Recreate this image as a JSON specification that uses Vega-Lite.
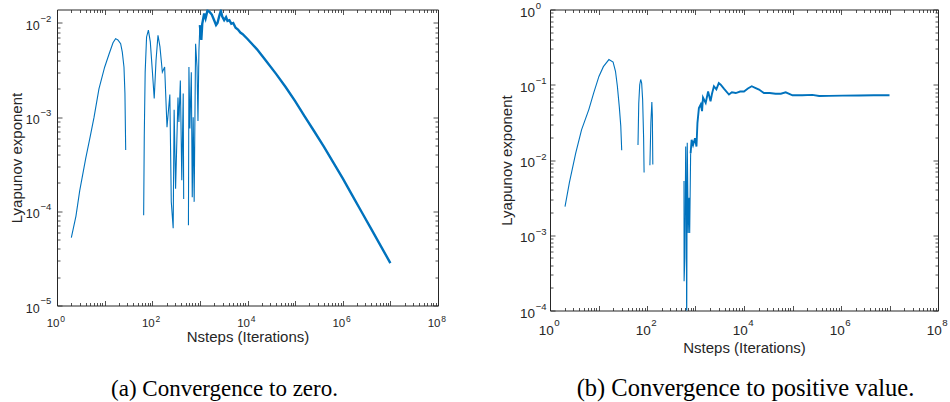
{
  "$schema": "https://vega.github.io/schema/vega-lite/v6.json",
  "padding": {"left": 9, "top": 0.5, "right": 0, "bottom": 0},
  "background": "white",
  "bounds": "flush",
  "spacing": 112,
  "config": {
    "view": {"stroke": null},
    "axis": {
      "domainColor": "#262626", "tickColor": "#262626", "titleColor": "#262626",
      "titleFont": "Liberation Sans", "titleFontSize": 15, "titleFontWeight": "normal",
      "labels": false, "grid": false, "tickSize": -3, "tickWidth": 0.8, "domainWidth": 1
    },
    "text": {"font": "Liberation Sans", "color": "#262626"},
    "title": {"font": "Liberation Serif", "fontWeight": "normal", "color": "#000000", "orient": "bottom", "anchor": "middle"}
  },
  "resolve": {"scale": {"x": "independent", "y": "independent", "strokeWidth": "independent"}},
  "datasets": {
    "xlab": [
      {"v": 1, "e": "0"}, {"v": 100, "e": "2"}, {"v": 10000, "e": "4"}, {"v": 1000000, "e": "6"}, {"v": 100000000, "e": "8"}
    ],
    "ylabA": [
      {"v": 0.00001, "e": "−5"}, {"v": 0.0001, "e": "−4"}, {"v": 0.001, "e": "−3"}, {"v": 0.01, "e": "−2"}
    ],
    "ylabB": [
      {"v": 0.0001, "e": "−4"}, {"v": 0.001, "e": "−3"}, {"v": 0.01, "e": "−2"}, {"v": 0.1, "e": "−1"}, {"v": 1, "e": "0"}
    ],
    "a": [
      {"N": 2, "L": 0.0000525, "phase": "t"},
      {"N": 2.5, "L": 0.000089, "phase": "t"},
      {"N": 3, "L": 0.000166, "phase": "t"},
      {"N": 4, "L": 0.000363, "phase": "t"},
      {"N": 5, "L": 0.00063, "phase": "t"},
      {"N": 6, "L": 0.001, "phase": "t"},
      {"N": 7.6, "L": 0.002, "phase": "t"},
      {"N": 10, "L": 0.00339, "phase": "t"},
      {"N": 12.4, "L": 0.00468, "phase": "t"},
      {"N": 15, "L": 0.00617, "phase": "t"},
      {"N": 17, "L": 0.00682, "phase": "t"},
      {"N": 19, "L": 0.00661, "phase": "t"},
      {"N": 21.7, "L": 0.00603, "phase": "t"},
      {"N": 23.5, "L": 0.0049, "phase": "t"},
      {"N": 25.5, "L": 0.00339, "phase": "t"},
      {"N": 26.7, "L": 0.00178, "phase": "t"},
      {"N": 27.7, "L": 0.000447, "phase": "t"},
      {"N": 29, "L": null, "phase": "t"},
      {"N": 66, "L": 0.000091, "phase": "t"},
      {"N": 68, "L": 0.00063, "phase": "t"},
      {"N": 71, "L": 0.003, "phase": "t"},
      {"N": 76, "L": 0.0071, "phase": "t"},
      {"N": 83, "L": 0.0084, "phase": "t"},
      {"N": 91, "L": 0.0063, "phase": "t"},
      {"N": 100, "L": 0.0032, "phase": "t"},
      {"N": 110, "L": 0.00158, "phase": "t"},
      {"N": 120, "L": 0.004, "phase": "t"},
      {"N": 132, "L": 0.0074, "phase": "t"},
      {"N": 145, "L": 0.0056, "phase": "t"},
      {"N": 163, "L": 0.003, "phase": "t"},
      {"N": 182, "L": 0.0034, "phase": "t"},
      {"N": 204, "L": 0.00078, "phase": "t"},
      {"N": 234, "L": 0.00174, "phase": "t"},
      {"N": 251, "L": 0.000126, "phase": "t"},
      {"N": 275, "L": 0.000066, "phase": "t"},
      {"N": 288, "L": 0.0012, "phase": "t"},
      {"N": 309, "L": 0.000174, "phase": "t"},
      {"N": 347, "L": 0.00162, "phase": "t"},
      {"N": 363, "L": 0.00089, "phase": "t"},
      {"N": 389, "L": 0.00245, "phase": "t"},
      {"N": 417, "L": 0.000214, "phase": "t"},
      {"N": 447, "L": 0.00178, "phase": "t"},
      {"N": 457, "L": 0.000135, "phase": "t"},
      {"N": 500, "L": null, "phase": "t"},
      {"N": 575, "L": 0.000071, "phase": "t"},
      {"N": 589, "L": 0.0034, "phase": "t"},
      {"N": 617, "L": 0.00076, "phase": "t"},
      {"N": 661, "L": 0.003, "phase": "t"},
      {"N": 692, "L": 0.000141, "phase": "t"},
      {"N": 724, "L": 0.001, "phase": "t"},
      {"N": 759, "L": 0.000126, "phase": "t"},
      {"N": 813, "L": 0.006, "phase": "t"},
      {"N": 871, "L": 0.0034, "phase": "t"},
      {"N": 912, "L": 0.00091, "phase": "t"},
      {"N": 955, "L": 0.0051, "phase": "t"},
      {"N": 1000, "L": 0.0095, "phase": "t"},
      {"N": 1000, "L": 0.0095, "phase": "n"},
      {"N": 1072, "L": 0.0066, "phase": "n"},
      {"N": 1122, "L": 0.0098, "phase": "n"},
      {"N": 1230, "L": 0.0126, "phase": "n"},
      {"N": 1318, "L": 0.0112, "phase": "n"},
      {"N": 1445, "L": 0.0136, "phase": "n"},
      {"N": 1585, "L": 0.0132, "phase": "n"},
      {"N": 1778, "L": 0.0123, "phase": "n"},
      {"N": 1995, "L": 0.0107, "phase": "n"},
      {"N": 2188, "L": 0.0095, "phase": "n"},
      {"N": 2344, "L": 0.01, "phase": "n"},
      {"N": 2570, "L": 0.012, "phase": "n"},
      {"N": 2754, "L": 0.0135, "phase": "n"},
      {"N": 2951, "L": 0.0117, "phase": "n"},
      {"N": 3236, "L": 0.0107, "phase": "n"},
      {"N": 3548, "L": 0.0115, "phase": "n"},
      {"N": 3802, "L": 0.0105, "phase": "n"},
      {"N": 4169, "L": 0.0107, "phase": "n"},
      {"N": 4571, "L": 0.0098, "phase": "n"},
      {"N": 5012, "L": 0.01, "phase": "n"},
      {"N": 5623, "L": 0.0089, "phase": "n"},
      {"N": 6310, "L": 0.0085, "phase": "n"},
      {"N": 7079, "L": 0.0079, "phase": "n"},
      {"N": 7943, "L": 0.0076, "phase": "n"},
      {"N": 10000, "L": 0.00676, "phase": "n"},
      {"N": 15849, "L": 0.00525, "phase": "n"},
      {"N": 25119, "L": 0.00389, "phase": "n"},
      {"N": 39811, "L": 0.00288, "phase": "n"},
      {"N": 63096, "L": 0.00209, "phase": "n"},
      {"N": 100000, "L": 0.00148, "phase": "n"},
      {"N": 158489, "L": 0.00102, "phase": "n"},
      {"N": 251189, "L": 0.000708, "phase": "n"},
      {"N": 398107, "L": 0.00049, "phase": "n"},
      {"N": 630957, "L": 0.000331, "phase": "n"},
      {"N": 1000000, "L": 0.000224, "phase": "n"},
      {"N": 1584893, "L": 0.000148, "phase": "n"},
      {"N": 2511886, "L": 0.0000977, "phase": "n"},
      {"N": 3981072, "L": 0.0000646, "phase": "n"},
      {"N": 6309573, "L": 0.0000427, "phase": "n"},
      {"N": 10000000, "L": 0.0000282, "phase": "n"}
    ],
    "b": [
      {"N": 2.04, "L": 0.0024, "phase": "t"},
      {"N": 2.51, "L": 0.005, "phase": "t"},
      {"N": 3.39, "L": 0.0123, "phase": "t"},
      {"N": 4.47, "L": 0.0251, "phase": "t"},
      {"N": 6.31, "L": 0.0468, "phase": "t"},
      {"N": 7.94, "L": 0.0776, "phase": "t"},
      {"N": 10.2, "L": 0.129, "phase": "t"},
      {"N": 12.6, "L": 0.174, "phase": "t"},
      {"N": 16.4, "L": 0.216, "phase": "t"},
      {"N": 20, "L": 0.2, "phase": "t"},
      {"N": 22.4, "L": 0.151, "phase": "t"},
      {"N": 24.5, "L": 0.0955, "phase": "t"},
      {"N": 26.9, "L": 0.05, "phase": "t"},
      {"N": 28.8, "L": 0.0282, "phase": "t"},
      {"N": 30.1, "L": 0.0135, "phase": "t"},
      {"N": 32, "L": null, "phase": "t"},
      {"N": 65.2, "L": 0.0158, "phase": "t"},
      {"N": 67.6, "L": 0.0562, "phase": "t"},
      {"N": 70.8, "L": 0.1, "phase": "t"},
      {"N": 74.1, "L": 0.1175, "phase": "t"},
      {"N": 77.6, "L": 0.105, "phase": "t"},
      {"N": 81.3, "L": 0.063, "phase": "t"},
      {"N": 85.1, "L": 0.02, "phase": "t"},
      {"N": 87.1, "L": 0.0068, "phase": "t"},
      {"N": 95, "L": null, "phase": "t"},
      {"N": 114.8, "L": 0.0085, "phase": "t"},
      {"N": 120.2, "L": 0.0316, "phase": "t"},
      {"N": 125.9, "L": 0.0589, "phase": "t"},
      {"N": 128.8, "L": 0.04, "phase": "t"},
      {"N": 131.8, "L": 0.0087, "phase": "t"},
      {"N": 140, "L": null, "phase": "t"},
      {"N": 579, "L": 0.00525, "phase": "t"},
      {"N": 582, "L": 0.000245, "phase": "t"},
      {"N": 603, "L": 0.0005, "phase": "t"},
      {"N": 628, "L": 0.0151, "phase": "t"},
      {"N": 646, "L": 0.002, "phase": "t"},
      {"N": 658, "L": 0.00005, "phase": "t"},
      {"N": 676, "L": 0.017, "phase": "t"},
      {"N": 708, "L": 0.00107, "phase": "t"},
      {"N": 735, "L": 0.00316, "phase": "t"},
      {"N": 759, "L": 0.00107, "phase": "t"},
      {"N": 794, "L": 0.0123, "phase": "t"},
      {"N": 794, "L": 0.0123, "phase": "n"},
      {"N": 832, "L": 0.0186, "phase": "n"},
      {"N": 891, "L": 0.0158, "phase": "n"},
      {"N": 977, "L": 0.0195, "phase": "n"},
      {"N": 1047, "L": 0.0151, "phase": "n"},
      {"N": 1096, "L": 0.0309, "phase": "n"},
      {"N": 1175, "L": 0.049, "phase": "n"},
      {"N": 1288, "L": 0.055, "phase": "n"},
      {"N": 1365, "L": 0.0447, "phase": "n"},
      {"N": 1429, "L": 0.0676, "phase": "n"},
      {"N": 1622, "L": 0.0575, "phase": "n"},
      {"N": 1820, "L": 0.0813, "phase": "n"},
      {"N": 2042, "L": 0.0603, "phase": "n"},
      {"N": 2188, "L": 0.0759, "phase": "n"},
      {"N": 2399, "L": 0.0955, "phase": "n"},
      {"N": 2692, "L": 0.0871, "phase": "n"},
      {"N": 3020, "L": 0.105, "phase": "n"},
      {"N": 3311, "L": 0.1, "phase": "n"},
      {"N": 3890, "L": 0.0881, "phase": "n"},
      {"N": 4898, "L": 0.0741, "phase": "n"},
      {"N": 5623, "L": 0.0794, "phase": "n"},
      {"N": 6761, "L": 0.0776, "phase": "n"},
      {"N": 8318, "L": 0.0813, "phase": "n"},
      {"N": 10000, "L": 0.0813, "phase": "n"},
      {"N": 12023, "L": 0.0891, "phase": "n"},
      {"N": 14454, "L": 0.0955, "phase": "n"},
      {"N": 16982, "L": 0.0912, "phase": "n"},
      {"N": 20417, "L": 0.0863, "phase": "n"},
      {"N": 25704, "L": 0.0776, "phase": "n"},
      {"N": 33884, "L": 0.0776, "phase": "n"},
      {"N": 44668, "L": 0.0759, "phase": "n"},
      {"N": 57544, "L": 0.0759, "phase": "n"},
      {"N": 72444, "L": 0.0794, "phase": "n"},
      {"N": 100000, "L": 0.0724, "phase": "n"},
      {"N": 158489, "L": 0.0724, "phase": "n"},
      {"N": 257040, "L": 0.0733, "phase": "n"},
      {"N": 354813, "L": 0.0708, "phase": "n"},
      {"N": 562341, "L": 0.0711, "phase": "n"},
      {"N": 1071519, "L": 0.0718, "phase": "n"},
      {"N": 2344229, "L": 0.0721, "phase": "n"},
      {"N": 4786301, "L": 0.0724, "phase": "n"},
      {"N": 10000000, "L": 0.0724, "phase": "n"}
    ]
  },
  "hconcat": [
    {
      "width": 381, "height": 296,
      "title": {"text": "(a) Convergence to zero.", "fontSize": 23, "offset": 33.5, "dx": -23},
      "resolve": {"axis": {"x": "independent", "y": "independent"}},
      "layer": [
        {
          "data": {"name": "a"},
          "mark": {"type": "line", "color": "#0072BD", "clip": true, "invalid": "break-paths-filter-domains"},
          "encoding": {
            "x": {"field": "N", "type": "quantitative", "scale": {"type": "log", "domain": [1, 100000000], "nice": false},
              "axis": {"orient": "bottom", "title": "Nsteps (Iterations)", "titlePadding": 24,
                "values": [1,2,3,4,5,6,7,8,9,10,20,30,40,50,60,70,80,90,100,200,300,400,500,600,700,800,900,1000,2000,3000,4000,5000,6000,7000,8000,9000,10000,20000,30000,40000,50000,60000,70000,80000,90000,100000,200000,300000,400000,500000,600000,700000,800000,900000,1000000,2000000,3000000,4000000,5000000,6000000,7000000,8000000,9000000,10000000,20000000,30000000,40000000,50000000,60000000,70000000,80000000,90000000,100000000],
                "tickSize": {"condition": {"test": "abs(log(datum.value)/LN10 - round(log(datum.value)/LN10)) < 0.001", "value": -5}, "value": -3}}},
            "y": {"field": "L", "type": "quantitative", "scale": {"type": "log", "domain": [0.00001, 0.0139], "nice": false},
              "axis": {"orient": "left", "title": "Lyapunov exponent", "titlePadding": 32,
                "values": [0.00001,0.00002,0.00003,0.00004,0.00005,0.00006,0.00007,0.00008,0.00009,0.0001,0.0002,0.0003,0.0004,0.0005,0.0006,0.0007,0.0008,0.0009,0.001,0.002,0.003,0.004,0.005,0.006,0.007,0.008,0.009,0.01],
                "tickSize": {"condition": {"test": "abs(log(datum.value)/LN10 - round(log(datum.value)/LN10)) < 0.001", "value": -5}, "value": -3}}},
            "strokeWidth": {"field": "phase", "type": "nominal", "scale": {"domain": ["t", "n"], "range": [1.1, 2.4]}, "legend": null}
          }
        },
        {
          "data": {"name": "a"},
          "mark": {"type": "line", "opacity": 0, "invalid": "break-paths-filter-domains"},
          "encoding": {
            "x": {"field": "N", "type": "quantitative",
              "axis": {"orient": "top", "title": null,
                "values": [1,2,3,4,5,6,7,8,9,10,20,30,40,50,60,70,80,90,100,200,300,400,500,600,700,800,900,1000,2000,3000,4000,5000,6000,7000,8000,9000,10000,20000,30000,40000,50000,60000,70000,80000,90000,100000,200000,300000,400000,500000,600000,700000,800000,900000,1000000,2000000,3000000,4000000,5000000,6000000,7000000,8000000,9000000,10000000,20000000,30000000,40000000,50000000,60000000,70000000,80000000,90000000,100000000],
                "tickSize": {"condition": {"test": "abs(log(datum.value)/LN10 - round(log(datum.value)/LN10)) < 0.001", "value": -5}, "value": -3}}},
            "y": {"field": "L", "type": "quantitative",
              "axis": {"orient": "right", "title": null,
                "values": [0.00001,0.00002,0.00003,0.00004,0.00005,0.00006,0.00007,0.00008,0.00009,0.0001,0.0002,0.0003,0.0004,0.0005,0.0006,0.0007,0.0008,0.0009,0.001,0.002,0.003,0.004,0.005,0.006,0.007,0.008,0.009,0.01],
                "tickSize": {"condition": {"test": "abs(log(datum.value)/LN10 - round(log(datum.value)/LN10)) < 0.001", "value": -5}, "value": -3}}}
          }
        },
        {
          "data": {"name": "xlab"},
          "mark": {"type": "text", "align": "right", "baseline": "alphabetic", "fontSize": 11.5, "dx": 2.5, "dy": 21.5},
          "encoding": {
            "x": {"field": "v", "type": "quantitative", "axis": null},
            "y": {"datum": 0.00001, "type": "quantitative", "axis": null},
            "text": {"value": "10"}
          }
        },
        {
          "data": {"name": "xlab"},
          "mark": {"type": "text", "align": "left", "baseline": "alphabetic", "fontSize": 8.5, "dx": 3.2, "dy": 16.5},
          "encoding": {
            "x": {"field": "v", "type": "quantitative", "axis": null},
            "y": {"datum": 0.00001, "type": "quantitative", "axis": null},
            "text": {"field": "e"}
          }
        },
        {
          "data": {"name": "ylabA"},
          "mark": {"type": "text", "align": "right", "baseline": "alphabetic", "fontSize": 12.5, "dx": -17.3, "dy": 7},
          "encoding": {
            "x": {"datum": 1, "type": "quantitative", "axis": null},
            "y": {"field": "v", "type": "quantitative", "axis": null},
            "text": {"value": "10"}
          }
        },
        {
          "data": {"name": "ylabA"},
          "mark": {"type": "text", "align": "left", "baseline": "alphabetic", "fontSize": 9.5, "dx": -16.5, "dy": -1.3},
          "encoding": {
            "x": {"datum": 1, "type": "quantitative", "axis": null},
            "y": {"field": "v", "type": "quantitative", "axis": null},
            "text": {"field": "e"}
          }
        }
      ]
    },
    {
      "width": 388, "height": 301,
      "title": {"text": "(b) Convergence to positive value.", "fontSize": 24.5, "offset": 22, "dx": 1.5},
      "resolve": {"axis": {"x": "independent", "y": "independent"}},
      "layer": [
        {
          "data": {"name": "b"},
          "mark": {"type": "line", "color": "#0072BD", "clip": true, "invalid": "break-paths-filter-domains"},
          "encoding": {
            "x": {"field": "N", "type": "quantitative", "scale": {"type": "log", "domain": [1, 100000000], "nice": false},
              "axis": {"orient": "bottom", "title": "Nsteps (Iterations)", "titlePadding": 29.5,
                "values": [1,2,3,4,5,6,7,8,9,10,20,30,40,50,60,70,80,90,100,200,300,400,500,600,700,800,900,1000,2000,3000,4000,5000,6000,7000,8000,9000,10000,20000,30000,40000,50000,60000,70000,80000,90000,100000,200000,300000,400000,500000,600000,700000,800000,900000,1000000,2000000,3000000,4000000,5000000,6000000,7000000,8000000,9000000,10000000,20000000,30000000,40000000,50000000,60000000,70000000,80000000,90000000,100000000],
                "tickSize": {"condition": {"test": "abs(log(datum.value)/LN10 - round(log(datum.value)/LN10)) < 0.001", "value": -5}, "value": -3}}},
            "y": {"field": "L", "type": "quantitative", "scale": {"type": "log", "domain": [0.0001, 1], "nice": false},
              "axis": {"orient": "left", "title": "Lyapunov exponent", "titlePadding": 35,
                "values": [0.0001,0.0002,0.0003,0.0004,0.0005,0.0006,0.0007,0.0008,0.0009,0.001,0.002,0.003,0.004,0.005,0.006,0.007,0.008,0.009,0.01,0.02,0.03,0.04,0.05,0.06,0.07,0.08,0.09,0.1,0.2,0.3,0.4,0.5,0.6,0.7,0.8,0.9,1],
                "tickSize": {"condition": {"test": "abs(log(datum.value)/LN10 - round(log(datum.value)/LN10)) < 0.001", "value": -5}, "value": -3}}},
            "strokeWidth": {"field": "phase", "type": "nominal", "scale": {"domain": ["t", "n"], "range": [1.1, 1.9]}, "legend": null}
          }
        },
        {
          "data": {"name": "b"},
          "mark": {"type": "line", "opacity": 0, "invalid": "break-paths-filter-domains"},
          "encoding": {
            "x": {"field": "N", "type": "quantitative",
              "axis": {"orient": "top", "title": null,
                "values": [1,2,3,4,5,6,7,8,9,10,20,30,40,50,60,70,80,90,100,200,300,400,500,600,700,800,900,1000,2000,3000,4000,5000,6000,7000,8000,9000,10000,20000,30000,40000,50000,60000,70000,80000,90000,100000,200000,300000,400000,500000,600000,700000,800000,900000,1000000,2000000,3000000,4000000,5000000,6000000,7000000,8000000,9000000,10000000,20000000,30000000,40000000,50000000,60000000,70000000,80000000,90000000,100000000],
                "tickSize": {"condition": {"test": "abs(log(datum.value)/LN10 - round(log(datum.value)/LN10)) < 0.001", "value": -5}, "value": -3}}},
            "y": {"field": "L", "type": "quantitative",
              "axis": {"orient": "right", "title": null,
                "values": [0.0001,0.0002,0.0003,0.0004,0.0005,0.0006,0.0007,0.0008,0.0009,0.001,0.002,0.003,0.004,0.005,0.006,0.007,0.008,0.009,0.01,0.02,0.03,0.04,0.05,0.06,0.07,0.08,0.09,0.1,0.2,0.3,0.4,0.5,0.6,0.7,0.8,0.9,1],
                "tickSize": {"condition": {"test": "abs(log(datum.value)/LN10 - round(log(datum.value)/LN10)) < 0.001", "value": -5}, "value": -3}}}
          }
        },
        {
          "data": {"name": "xlab"},
          "mark": {"type": "text", "align": "right", "baseline": "alphabetic", "fontSize": 13.5, "dx": 3.7, "dy": 24.3},
          "encoding": {
            "x": {"field": "v", "type": "quantitative", "axis": null},
            "y": {"datum": 0.0001, "type": "quantitative", "axis": null},
            "text": {"value": "10"}
          }
        },
        {
          "data": {"name": "xlab"},
          "mark": {"type": "text", "align": "left", "baseline": "alphabetic", "fontSize": 9.7, "dx": 4.3, "dy": 15},
          "encoding": {
            "x": {"field": "v", "type": "quantitative", "axis": null},
            "y": {"datum": 0.0001, "type": "quantitative", "axis": null},
            "text": {"field": "e"}
          }
        },
        {
          "data": {"name": "ylabB"},
          "mark": {"type": "text", "align": "right", "baseline": "alphabetic", "fontSize": 13.5, "dx": -15, "dy": 7},
          "encoding": {
            "x": {"datum": 1, "type": "quantitative", "axis": null},
            "y": {"field": "v", "type": "quantitative", "axis": null},
            "text": {"value": "10"}
          }
        },
        {
          "data": {"name": "ylabB"},
          "mark": {"type": "text", "align": "left", "baseline": "alphabetic", "fontSize": 9.5, "dx": -14.3, "dy": -0.5},
          "encoding": {
            "x": {"datum": 1, "type": "quantitative", "axis": null},
            "y": {"field": "v", "type": "quantitative", "axis": null},
            "text": {"field": "e"}
          }
        }
      ]
    }
  ]
}
